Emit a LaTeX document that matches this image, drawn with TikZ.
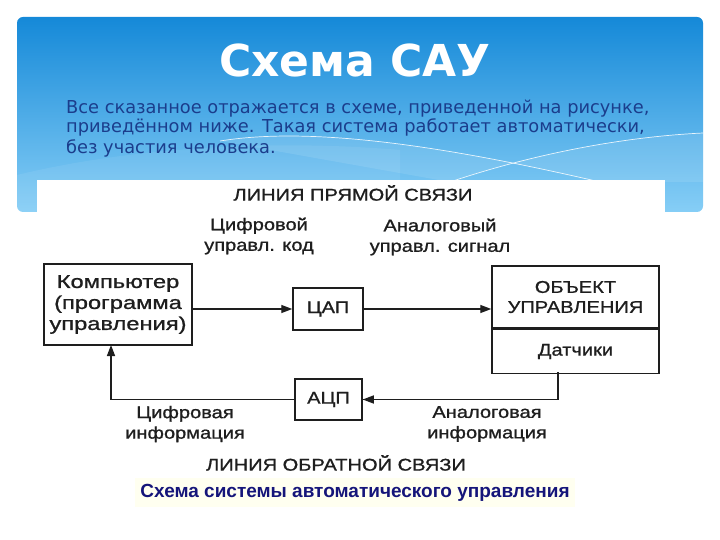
\documentclass[tikz,border=0pt]{standalone}
\usepackage{fontspec}
\setmainfont{DejaVu Sans}
\newfontfamily\diagfont[FakeStretch=1.18, FakeBold=1]{Liberation Sans}
\newfontfamily\compfont[FakeStretch=1.28, FakeBold=1]{Liberation Sans}
\newfontfamily\capfont{Liberation Sans}
\usetikzlibrary{arrows.meta, positioning, calc}
\definecolor{bannertop}{HTML}{1589D8}
\definecolor{bannerbottom}{HTML}{86CEF6}
\definecolor{bullettext}{HTML}{1B3D8C}
\definecolor{inkdark}{HTML}{1E1E1E}
\definecolor{captionnavy}{HTML}{15157A}
\definecolor{captionbg}{HTML}{FFFFF0}

\begin{document}
\begin{tikzpicture}[
    x=1pt, y=-1pt,
    box/.style={
        rectangle, draw=inkdark, line width=1.5pt,
        font=\diagfont\fontsize{17}{20}\selectfont,
        text=inkdark, align=center, inner sep=0pt
    },
    lbl/.style={
        font=\diagfont\fontsize{17}{20.5}\selectfont,
        text=inkdark, align=center, inner sep=0pt
    },
    bullet/.style={
        anchor=base west, inner sep=0pt,
        font=\fontsize{17.8}{14}\selectfont, text=bullettext
    },
    arr/.style={
        -{Triangle[length=11pt, width=8pt]},
        line width=1.4pt, draw=inkdark
    },
    wire/.style={line width=1.4pt, draw=inkdark},
    swoosh/.style={draw=white, line width=0.7pt, opacity=0.85}
]
\useasboundingbox (0,0) rectangle (720,540);

% ==========================================
% SLIDE BACKGROUND
% ==========================================

\shade[top color=bannertop, bottom color=bannerbottom, rounded corners=6pt]
(17,17) rectangle (703,212);
\fill[white, opacity=0.10]
(220,141) .. controls (300,128) and (420,140) .. (600,182)
-- (703,182) -- (703,133) .. controls (620,137) and (530,155) .. (450,182) -- cycle;
\fill[white, opacity=0.07]
(17,175) .. controls (120,150) and (260,138) .. (400,150)
-- (400,212) -- (17,212) -- cycle;
\draw[swoosh] (220,141) .. controls (300,128) and (420,140) .. (600,182);
\draw[swoosh] (450,182) .. controls (530,155) and (620,137) .. (703,133);

\node[font=\bfseries\fontsize{44}{48}\selectfont, text=white] (title) at (355,60) {Схема САУ};

\node[bullet] (line1) at (66,114) {Все сказанное отражается в схеме, приведенной на рисунке,};
\node[bullet] (line2) at (66,133) {приведённом ниже. Такая система работает автоматически,};
\node[bullet] (line3) at (66,154) {без участия человека.};

% white sheet of the figure
\fill[white] (37,180) rectangle (665,470);

% ==========================================
% FORWARD LINE
% ==========================================

\node[lbl] (fwd) at (353,193) {ЛИНИЯ ПРЯМОЙ СВЯЗИ};
\node[lbl] (digcode) at (259,236) {Цифровой\\управл. код};
\node[lbl] (ansig) at (440,237) {Аналоговый\\управл. сигнал};

\node[box, font=\compfont\fontsize{18.5}{21}\selectfont,
      minimum width=148pt, minimum height=81pt] (comp) at (118,304.5)
{Компьютер\\(программа\\управления)};
\node[box, minimum width=70pt, minimum height=42pt] (dac) at (328,309) {ЦАП};
\node[box, minimum width=167pt, minimum height=62pt] (obj) at (575.5,297)
{ОБЪЕКТ\\УПРАВЛЕНИЯ};
\node[box, minimum width=167pt, minimum height=44pt, below=0pt of obj] (sens) {Датчики};

\draw[arr] (comp.east |- dac.west) -- (dac.west);
\draw[arr] (dac.east) -- (dac.east -| obj.west);

% ==========================================
% FEEDBACK LINE
% ==========================================

\node[box, minimum width=67pt, minimum height=41pt] (adc) at (328.5,399.5) {АЦП};

\coordinate (drop) at (558,372);
\coordinate (rise) at (111,345);
\draw[wire] (drop) |- (adc.east);
\draw[arr] (drop |- adc.east) -- (adc.east);
\draw[arr] (adc.west) -| (rise);

\node[lbl] (diginfo) at (185,424) {Цифровая\\информация};
\node[lbl] (aninfo) at (487,424) {Аналоговая\\информация};
\node[lbl] (back) at (336,463) {ЛИНИЯ ОБРАТНОЙ СВЯЗИ};

% ==========================================
% CAPTION
% ==========================================

\fill[captionbg] (135,478) rectangle (575,507);
\node[font=\capfont\bfseries\fontsize{19}{21}\selectfont, text=captionnavy] (caption) at (355,493)
{Схема системы автоматического управления};

\end{tikzpicture}
\end{document}
